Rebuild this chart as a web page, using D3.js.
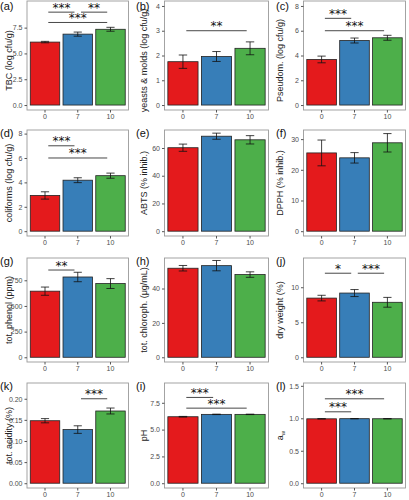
<!DOCTYPE html>
<html><head><meta charset="utf-8">
<script src="https://cdn.jsdelivr.net/npm/d3@7"></script>
<style>body{margin:0;background:#fff}svg{display:block}</style>
</head><body>
<script>
const categories = ["0","7","10"];
const barColors = ["#E41A1C","#377EB8","#4DAF4A"];
const panelLetters = ["(a)","(b)","(c)","(d)","(e)","(f)","(g)","(h)","(j)","(k)","(i)","(l)"];
const yTitles = ["TBC (log cfu/g)","yeasts & molds (log cfu/g)","Pseudom. (log cfu/g)",
  "coliforms (log cfu/g)","ABTS (% inhib.)","DPPH (% inhib.)",
  "tot. phenol (ppm)","tot. chloroph. (\u03bcg/mL)","dry weight (%)",
  "tot. acidity (%)","pH","a_w"];

const tbcMean=[6.10,6.87,7.34],   tbcErr=[0.07,0.20,0.19];
const ymMean=[1.75,1.96,2.29],    ymErr=[0.27,0.20,0.26];
const pseMean=[3.68,5.21,5.43],   pseErr=[0.27,0.20,0.20];
const colMean=[2.93,4.18,4.55],   colErr=[0.30,0.20,0.21];
const abtsMean=[60.2,68.5,65.9],  abtsErr=[2.6,2.2,3.0];
const dpphMean=[25.5,23.9,28.8],  dpphErr=[4.2,1.7,3.0];
const phenMean=[644,782,718],     phenErr=[40,46,48];
const chlMean=[51.8,53.3,48.1],   chlErr=[1.6,3.0,1.6];
const dwMean=[8.45,9.17,7.85],    dwErr=[0.40,0.50,0.70];
const acidMean=[0.148,0.127,0.171], acidErr=[0.005,0.009,0.007];
const phMean=[6.20,6.42,6.42],    phErr=[0.03,0.02,0.02];
const awMean=[0.992,0.994,0.993], awErr=[0.002,0.002,0.002];

const tbcSig=[["0","7",9,"***"],["7","10",9,"**"],["0","10",8,"***"]];
const ymSig=[["0","10",3,"**"]];
const pseSig=[["0","7",7,"***"],["0","10",6,"***"]];
const colSig=[["0","7",7,"***"],["0","10",6,"***"]];
const abtsSig=[], dpphSig=[], chlSig=[];
const phenSig=[["0","7",850,"**"]];
const dwSig=[["0","7",12,"*"],["7","10",12,"***"]];
const acidSig=[["7","10",0.2,"***"]];
const phSig=[["0","7",8,"***"],["0","10",7,"***"]];
const awSig=[["0","7",1.1,"***"],["0","10",1.3,"***"]];

const yLimits=[9.6,4.0,8.0,7.9,69.5,31.4,921,55,13.5,0.226,8.9,1.47];
const yTicks=[[0,2.5,5,7.5],[0,1,2,3,4],[0,2,4,6,8],[0,2,4,6,8],[0,20,40,60],[0,10,20,30],
  [0,250,500,750],[0,20,40],[0,5,10],[0,0.05,0.1,0.15,0.2],[0,2.5,5,7.5],[0,0.5,1,1.5]];
const yTickFormats=[".1f","d","d","d","d","d","d","d","d",".2f",".1f",".1f"];

const means=[tbcMean,ymMean,pseMean,colMean,abtsMean,dpphMean,phenMean,chlMean,dwMean,acidMean,phMean,awMean];
const errs=[tbcErr,ymErr,pseErr,colErr,abtsErr,dpphErr,phenErr,chlErr,dwErr,acidErr,phErr,awErr];
const sigs=[tbcSig,ymSig,pseSig,colSig,abtsSig,dpphSig,phenSig,chlSig,dwSig,acidSig,phSig,awSig];

// layout
const W=409,H=500;
const rowTop=[1,130,258,383], rowBottom=[110,236,362,488];
const colLeft=[27,164.5,303.5], colRight=[128.5,268.5,405.5];
const titleX=[9,144,280], letterX=[0,136,276];
const titleShift=[5,0,0,0];

const svg=d3.select("body").append("svg").attr("width",W).attr("height",H);

means.forEach((m,i)=>{
  const r=Math.floor(i/3), c=i%3;
  const x0=colLeft[c], x1=colRight[c], y0=rowTop[r], y1=rowBottom[r];
  const M=yLimits[i];
  const x=d3.scaleBand().domain(categories).range([x0,x1]).paddingInner(0.1).paddingOuter(0.1);
  const y=d3.scaleLinear().domain([-0.05*M,1.05*M]).range([y1,y0]);
  const g=svg.append("g");
  const data=categories.map((k,j)=>({k,v:m[j],e:errs[i][j],col:barColors[j]}));
  g.selectAll("rect.bar").data(data).join("rect")
    .attr("x",d=>x(d.k)).attr("width",x.bandwidth())
    .attr("y",d=>y(d.v)).attr("height",d=>y(0)-y(d.v))
    .attr("fill",d=>d.col).attr("stroke","#222").attr("stroke-width",0.8);
  const capW=x.step()*0.25;
  data.forEach(d=>{
    const cx=x(d.k)+x.bandwidth()/2;
    g.append("line").attr("x1",cx).attr("x2",cx).attr("y1",y(d.v-d.e)).attr("y2",y(d.v+d.e)).attr("stroke","#111").attr("stroke-width",0.8);
    [d.v-d.e,d.v+d.e].forEach(v=>g.append("line").attr("x1",cx-capW/2).attr("x2",cx+capW/2).attr("y1",y(v)).attr("y2",y(v)).attr("stroke","#111").attr("stroke-width",0.8));
  });
  sigs[i].forEach(s=>{
    const xa=x(s[0])+x.bandwidth()/2+x.step()*0.1, xb=x(s[1])+x.bandwidth()/2-x.step()*0.1;
    g.append("line").attr("x1",xa).attr("x2",xb).attr("y1",y(s[2])).attr("y2",y(s[2])).attr("stroke","#333").attr("stroke-width",0.9);
    g.append("text").attr("x",(xa+xb)/2).attr("y",y(s[2])-0.5).attr("text-anchor","middle")
      .attr("font-family","DejaVu Sans").attr("font-size",12).attr("fill","#111").text(s[3]);
  });
  g.append("rect").attr("x",x0).attr("y",y0).attr("width",x1-x0).attr("height",y1-y0)
    .attr("fill","none").attr("stroke","#9a9a9a").attr("stroke-width",0.9);
  const ya=d3.axisLeft(y).tickValues(yTicks[i]).tickFormat(d3.format(yTickFormats[i])).tickSize(2.5).tickPadding(2);
  const ag=g.append("g").attr("transform",`translate(${x0},0)`).call(ya);
  ag.select(".domain").remove();
  ag.selectAll("line").attr("stroke","#555");
  ag.selectAll("text").attr("font-family","Liberation Sans").attr("font-size",7).attr("fill","#4d4d4d");
  const xa=d3.axisBottom(x).tickSize(2.5).tickPadding(2);
  const xg=g.append("g").attr("transform",`translate(0,${y1})`).call(xa);
  xg.select(".domain").remove();
  xg.selectAll("line").attr("stroke","#555");
  xg.selectAll("text").attr("font-family","Liberation Sans").attr("font-size",7).attr("fill","#4d4d4d");
  const t=svg.append("text").attr("transform",`translate(${titleX[c]+3},${(y0+y1)/2+titleShift[r]}) rotate(-90)`)
    .attr("text-anchor","middle").attr("font-family","Liberation Sans").attr("font-size",9).attr("fill","#222");
  if(yTitles[i]==="a_w"){
    t.append("tspan").text("a");
    t.append("tspan").attr("font-size",6).attr("dy",2).text("w");
  } else t.text(yTitles[i]);
  svg.append("text").attr("x",letterX[c]).attr("y",Math.max(y0+7,10)).attr("font-family","Liberation Sans")
    .attr("font-size",11).attr("fill","#111").text(panelLetters[i]);
});
</script>
</body></html>
